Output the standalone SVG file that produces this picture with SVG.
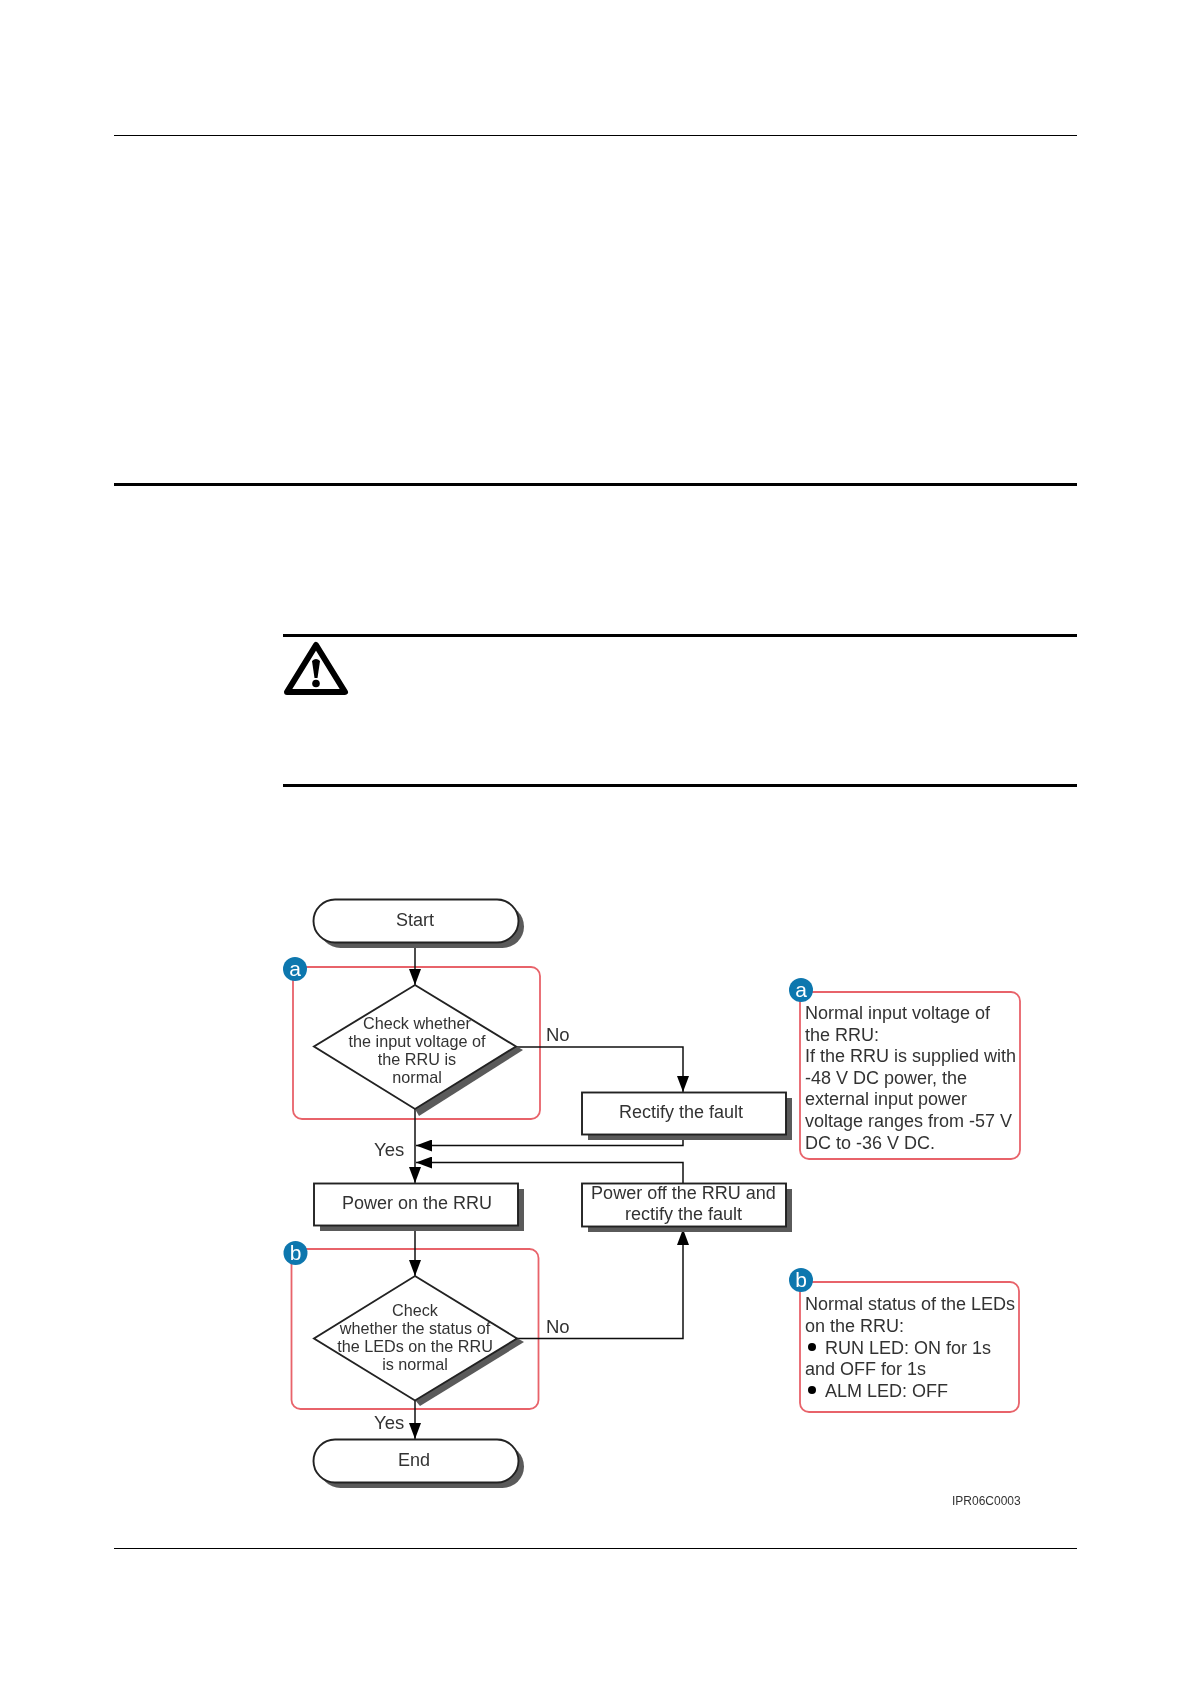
<svg xmlns="http://www.w3.org/2000/svg" width="1191" height="1684" viewBox="0 0 1191 1684">
<style>
text{font-family:"Liberation Sans",Arial,sans-serif;fill:#333}
.t{font-size:18px;text-anchor:middle}
.d{font-size:16.200px;text-anchor:middle}
.n{font-size:18px}
.l{font-size:18.500px}
.s{fill:#5a5a5a;stroke:none}
.f{fill:#fff;stroke:#222;stroke-width:1.900}
.r{fill:none;stroke:#e8636b;stroke-width:1.800}
.c{fill:none;stroke:#111;stroke-width:1.500}
.rule{stroke:#000;fill:none}
.b{fill:#0f77ae}
.bt{fill:#fff;font-size:21px;text-anchor:middle}
</style>
<defs>
<marker id="ah" markerUnits="userSpaceOnUse" markerWidth="16" markerHeight="12" refX="16" refY="6" viewBox="0 0 16 12" orient="auto"><path d="M0 0L16 6L0 12Z" fill="#000"/></marker>
<filter id="soft" x="0" y="0" width="1191" height="1684" filterUnits="userSpaceOnUse"><feGaussianBlur stdDeviation="0.450"/></filter>
</defs>
<rect width="1191" height="1684" fill="#fff"/>
<g id="page-rules">
<line class="rule" x1="114" y1="135.500" x2="1077" y2="135.500" stroke-width="1.200"/>
<line class="rule" x1="114" y1="484.500" x2="1077" y2="484.500" stroke-width="3"/>
<line class="rule" x1="283" y1="635.500" x2="1077" y2="635.500" stroke-width="3"/>
<line class="rule" x1="283" y1="785.500" x2="1077" y2="785.500" stroke-width="3"/>
<line class="rule" x1="114" y1="1548.500" x2="1077" y2="1548.500" stroke-width="1.200"/>
</g>
<g id="warning-icon">
<path d="M316 645L345 692H287Z" fill="none" stroke="#000" stroke-width="6" stroke-linejoin="round"/>
<path d="M312 661Q316 657 320 661L317.500 678H314.500Z" fill="#000"/>
<circle cx="316" cy="683.500" r="3.800" fill="#000"/>
</g>
<g filter="url(#soft)">
<g id="region-a"><rect class="r" x="293" y="967" width="247" height="152" rx="9"/><circle class="b" cx="295" cy="969" r="12"/><text class="bt" x="295" y="976">a</text></g>
<g id="region-b"><rect class="r" x="291.500" y="1249" width="247" height="160" rx="9"/><circle class="b" cx="295.500" cy="1253" r="12"/><text class="bt" x="295.500" y="1260">b</text></g>
<g id="connectors">
<path class="c" d="M415 942V985" marker-end="url(#ah)"/>
<path class="c" d="M415 1109V1183" marker-end="url(#ah)"/>
<path class="c" d="M415 1225V1276" marker-end="url(#ah)"/>
<path class="c" d="M415 1400V1439" marker-end="url(#ah)"/>
<path class="c" d="M516 1047H683V1092" marker-end="url(#ah)"/>
<path class="c" d="M683 1134V1145.500H416" marker-end="url(#ah)"/>
<path class="c" d="M683 1183V1162.500H416" marker-end="url(#ah)"/>
<path class="c" d="M517 1338.500H683V1229" marker-end="url(#ah)"/>
</g>
<g id="start"><rect class="s" x="319" y="905" width="205" height="43" rx="21.500"/><rect class="f" x="313.500" y="899.500" width="205" height="43" rx="21.500"/><text class="t" x="415" y="926">Start</text></g>
<g id="check-voltage"><path class="s" d="M516 1046L523 1050L419 1116L415 1109Z"/><path class="f" d="M415 985L516 1046.500L415 1109L314 1046.500Z"/><text class="d" x="417" y="1029">Check whether</text><text class="d" x="417" y="1047">the input voltage of</text><text class="d" x="417" y="1065">the RRU is</text><text class="d" x="417" y="1083">normal</text></g>
<g id="power-on"><rect class="s" x="320" y="1189" width="204" height="42"/><rect class="f" x="314" y="1183.500" width="204" height="42"/><text class="t" x="417" y="1209">Power on the RRU</text></g>
<g id="check-leds"><path class="s" d="M517 1338L524 1342L420 1406L415 1400Z"/><path class="f" d="M415 1276L517 1338.500L415 1400.500L314 1338.500Z"/><text class="d" x="415" y="1316">Check</text><text class="d" x="415" y="1334">whether the status of</text><text class="d" x="415" y="1352">the LEDs on the RRU</text><text class="d" x="415" y="1370">is normal</text></g>
<g id="end"><rect class="s" x="319" y="1445" width="205" height="43" rx="21.500"/><rect class="f" x="313.500" y="1439.500" width="205" height="43" rx="21.500"/><text class="t" x="414" y="1466">End</text></g>
<g id="rectify"><rect class="s" x="588" y="1098" width="204" height="42"/><rect class="f" x="582" y="1092.500" width="204" height="42"/><text class="t" x="681" y="1118">Rectify the fault</text></g>
<g id="power-off"><rect class="s" x="588" y="1189" width="204" height="43"/><rect class="f" x="582" y="1183.500" width="204" height="43"/><text class="t" x="683.500" y="1198.500">Power off the RRU and</text><text class="t" x="683.500" y="1219.500">rectify the fault</text></g>
<g id="labels">
<text class="l" x="546" y="1041">No</text><text class="l" x="546" y="1333">No</text>
<text class="l" x="374" y="1156">Yes</text><text class="l" x="374" y="1429">Yes</text>
</g>
<g id="note-a"><rect class="r" x="800" y="992" width="220" height="167" rx="9"/><circle class="b" cx="801" cy="990" r="12"/><text class="bt" x="801" y="997">a</text>
<text class="n" x="805" y="1019">Normal input voltage of</text><text class="n" x="805" y="1040.500">the RRU:</text><text class="n" x="805" y="1062">If the RRU is supplied with</text><text class="n" x="805" y="1083.500">-48 V DC power, the</text><text class="n" x="805" y="1105">external input power</text><text class="n" x="805" y="1127">voltage ranges from -57 V</text><text class="n" x="805" y="1149">DC to -36 V DC.</text></g>
<g id="note-b"><rect class="r" x="800" y="1282" width="219" height="130" rx="9"/><circle class="b" cx="801" cy="1280" r="12"/><text class="bt" x="801" y="1287">b</text>
<text class="n" x="805" y="1310">Normal status of the LEDs</text><text class="n" x="805" y="1331.500">on the RRU:</text><circle cx="812" cy="1347" r="4" fill="#000"/><text class="n" x="825" y="1353.500">RUN LED: ON for 1s</text><text class="n" x="805" y="1375">and OFF for 1s</text><circle cx="812" cy="1390" r="4" fill="#000"/><text class="n" x="825" y="1397">ALM LED: OFF</text></g>
<text id="figure-code" x="952" y="1505" font-size="12">IPR06C0003</text>
</g>
</svg>
